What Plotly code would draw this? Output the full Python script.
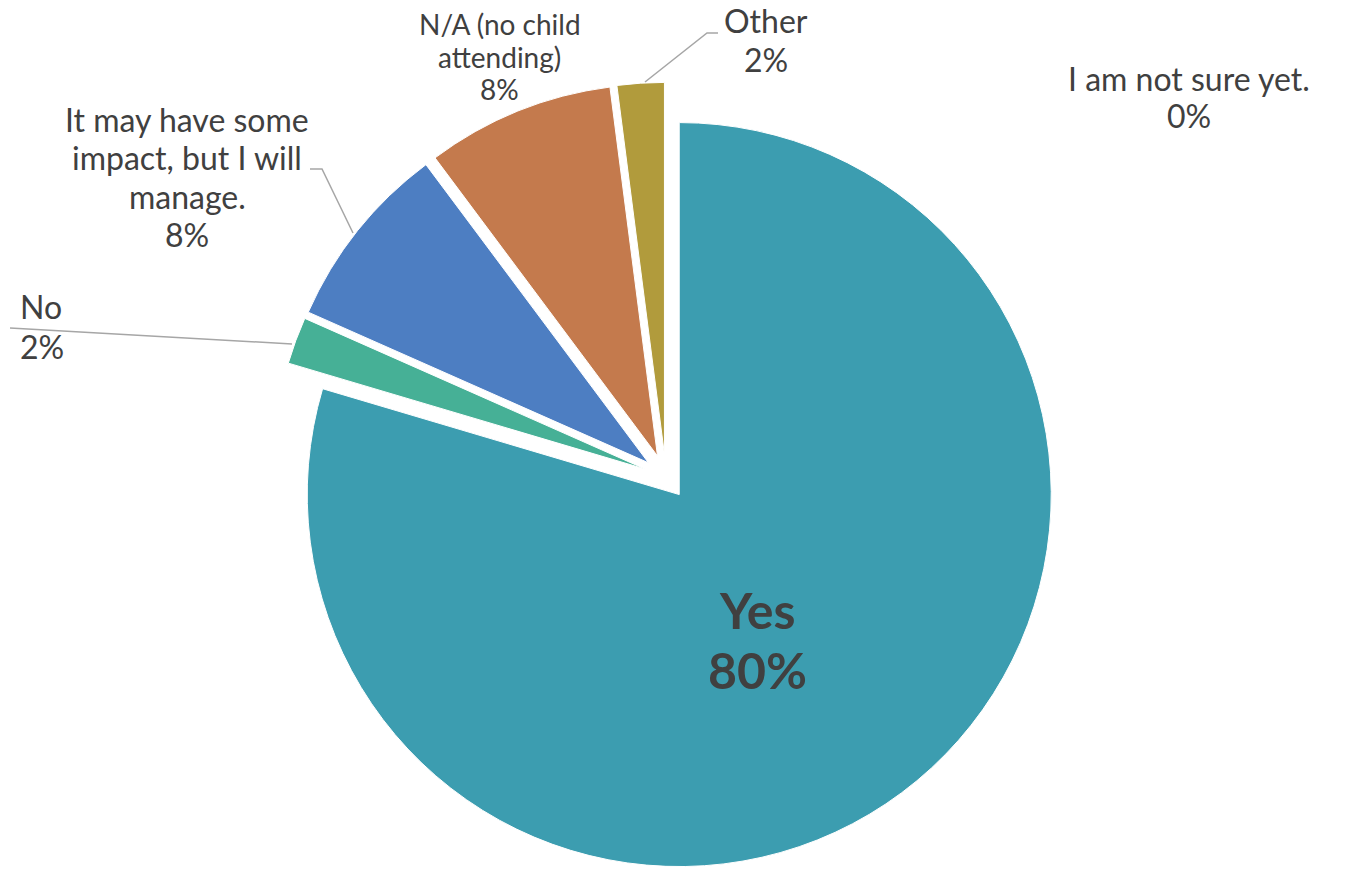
import plotly.graph_objects as go

W, H = 1345, 871

categories = ["Yes", "No", "It may have some impact, but I will manage.",
              "N/A (no child attending)", "Other", "I am not sure yet."]
counts = [39, 1, 4, 4, 1, 0]
colors = ["#3C9DB0", "#46B096", "#4D7EC2", "#C47A4D", "#B19B3C", "#D05A5A"]

# label lines as displayed (wrapped)
label_lines = [
    ["Yes"],
    ["No"],
    ["It may have some", "impact, but I will", "manage."],
    ["N/A (no child", "attending)"],
    ["Other"],
    ["I am not sure yet."],
]

total = sum(counts)
pcts = [f"{round(100 * c / total)}%" for c in counts]

PULL = 0.06
R = 372
box_h = 2 * R * (1 + PULL)
cx = 679 - 0.588 * PULL * R

fig = go.Figure()
fig.add_trace(go.Pie(
    labels=categories,
    values=counts,
    sort=False,
    direction="clockwise",
    rotation=0,
    pull=[PULL] * len(counts),
    marker=dict(colors=colors, line=dict(color="white", width=1)),
    textinfo="none",
    hoverinfo="label+percent",
    showlegend=False,
    domain=dict(x=[(cx - 450) / W, (cx + 450) / W], y=[0, box_h / H]),
))


def px(x):
    return x / W


def py(y):
    return 1 - y / H


font_main = "Lato, 'Open Sans', sans-serif"
txt = "#404040"

# idx, x, first-line y, line spacing, xanchor, size, bold
ann_specs = [
    (0, 757, 612, 60, "center", 50, True),
    (1, 18, 308, 40, "left", 32, False),
    (2, 187, 121, 38.5, "center", 32, False),
    (3, 500, 26, 32.5, "center", 28, False),
    (4, 766, 23, 39, "center", 32, False),
    (5, 1189, 80, 38, "center", 32, False),
]
for idx, x, y0, dy, xa, size, bold in ann_specs:
    lines = label_lines[idx] + [pcts[idx]]
    for k, line in enumerate(lines):
        t = f"<b>{line}</b>" if bold else line
        fig.add_annotation(
            x=px(x), y=py(y0 + k * dy - 2), xref="paper", yref="paper",
            text=t, showarrow=False, xanchor=xa, yanchor="middle",
            font=dict(family=font_main, size=size, color=txt),
        )

# leader lines
leaders = [
    [(10, 328), (292, 344)],
    [(310, 169), (322, 169), (353, 233)],
    [(718, 33), (707, 33), (645, 82)],
]
for pts in leaders:
    path = "M " + " L ".join(f"{px(x)},{py(y)}" for x, y in pts)
    fig.add_shape(type="path", path=path, xref="paper", yref="paper",
                  line=dict(color="#A6A6A6", width=1.5))

fig.update_layout(
    width=W, height=H,
    margin=dict(l=0, r=0, t=0, b=0),
    paper_bgcolor="white", plot_bgcolor="white",
)

fig.write_html("out.html")
